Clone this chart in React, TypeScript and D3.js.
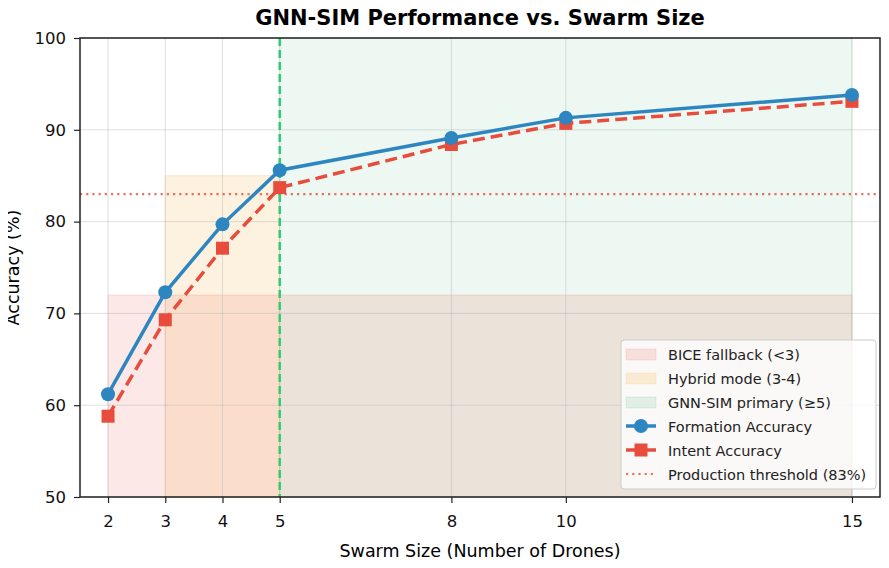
import React, { useEffect, useRef } from "react";
import * as d3 from "d3";

const swarmSizes = [2, 3, 4, 5, 8, 10, 15];
const formationAcc = [61.2, 72.3, 79.7, 85.6, 89.1, 91.3, 93.8];
const intentAcc = [58.8, 69.3, 77.1, 83.7, 88.4, 90.7, 93.1];
const yTicks = [50, 60, 70, 80, 90, 100];
const threshold = 83;

// shaded operating regions
const regions = [
  { label: "BICE fallback (<3)", x0: 2, x1: 15, yTop: 72, color: "#e74c3c", alpha: 0.12 },
  { label: "Hybrid mode (3-4)", x0: 3, x1: 5, yTop: 85, color: "#f39c12", alpha: 0.13 },
  { label: "GNN-SIM primary (≥5)", x0: 5, x1: 15, yTop: 100, color: "#27ae60", alpha: 0.09 },
];

const App: React.FC = () => {
  const svgRef = useRef<SVGSVGElement | null>(null);

  useEffect(() => {
    const svg = d3.select(svgRef.current);
    svg.selectAll("*").remove();

    const W = 889, H = 568;
    const m = { top: 38, right: 9, bottom: 71, left: 80 };
    const font = "DejaVu Sans, sans-serif";

    svg.attr("width", W).attr("height", H).style("background", "#fff");

    const x = d3.scaleLinear().domain([1.51, 15.49]).range([m.left, W - m.right]);
    const y = d3.scaleLinear().domain([50, 100]).range([H - m.bottom, m.top]);

    // regions (green first, then the others over it)
    [regions[2], regions[0], regions[1]].forEach(r => {
      svg.append("rect")
        .attr("x", x(r.x0))
        .attr("y", y(r.yTop))
        .attr("width", x(r.x1) - x(r.x0))
        .attr("height", y(50) - y(r.yTop))
        .attr("fill", r.color)
        .attr("fill-opacity", r.alpha)
        .attr("stroke", r.color)
        .attr("stroke-opacity", r.alpha + 0.05);
    });

    // grid
    const grid = svg.append("g");
    swarmSizes.forEach(v => {
      grid.append("line")
        .attr("x1", x(v)).attr("x2", x(v))
        .attr("y1", m.top).attr("y2", H - m.bottom)
        .attr("stroke", "#b0b0b0").attr("stroke-opacity", 0.4).attr("stroke-width", 1);
    });
    yTicks.forEach(v => {
      grid.append("line")
        .attr("x1", m.left).attr("x2", W - m.right)
        .attr("y1", y(v)).attr("y2", y(v))
        .attr("stroke", "#b0b0b0").attr("stroke-opacity", 0.4).attr("stroke-width", 1);
    });

    // threshold + switch line
    svg.append("line")
      .attr("x1", m.left).attr("x2", W - m.right)
      .attr("y1", y(threshold)).attr("y2", y(threshold))
      .attr("stroke", "#e74c3c").attr("stroke-opacity", 0.8)
      .attr("stroke-width", 2.2).attr("stroke-dasharray", "2.2,4");

    svg.append("line")
      .attr("x1", x(5)).attr("x2", x(5))
      .attr("y1", m.top).attr("y2", H - m.bottom)
      .attr("stroke", "#2ecc71").attr("stroke-width", 2.5).attr("stroke-dasharray", "8,4");

    const pts = (vals: number[]) => swarmSizes.map((s, i) => [x(s), y(vals[i])] as [number, number]);
    const line = d3.line<[number, number]>();

    svg.append("path")
      .attr("d", line(pts(intentAcc)))
      .attr("fill", "none").attr("stroke", "#e74c3c")
      .attr("stroke-width", 3.5).attr("stroke-dasharray", "12,6");
    svg.selectAll(".sq")
      .data(pts(intentAcc)).enter().append("rect")
      .attr("x", d => d[0] - 6.5).attr("y", d => d[1] - 6.5)
      .attr("width", 13).attr("height", 13)
      .attr("fill", "#e74c3c");

    svg.append("path")
      .attr("d", line(pts(formationAcc)))
      .attr("fill", "none").attr("stroke", "#2e86c1").attr("stroke-width", 3.5);
    svg.selectAll(".dot")
      .data(pts(formationAcc)).enter().append("circle")
      .attr("cx", d => d[0]).attr("cy", d => d[1]).attr("r", 7)
      .attr("fill", "#2e86c1");

    // frame
    svg.append("rect")
      .attr("x", m.left).attr("y", m.top)
      .attr("width", W - m.right - m.left).attr("height", H - m.bottom - m.top)
      .attr("fill", "none").attr("stroke", "#222").attr("stroke-width", 1.5);

    // axes
    const xAxis = svg.append("g")
      .attr("transform", `translate(0,${H - m.bottom})`)
      .call(d3.axisBottom(x).tickValues(swarmSizes).tickFormat(d3.format("d")).tickSize(6).tickPadding(12));
    const yAxis = svg.append("g")
      .attr("transform", `translate(${m.left},0)`)
      .call(d3.axisLeft(y).tickValues(yTicks).tickSize(6).tickPadding(8));
    [xAxis, yAxis].forEach(a => {
      a.select(".domain").remove();
      a.selectAll("line").attr("stroke", "#222").attr("stroke-width", 1.2);
      a.selectAll("text").style("font-family", font).style("font-size", "16.5px").attr("fill", "#111");
    });

    svg.append("text")
      .attr("x", (m.left + W - m.right) / 2).attr("y", 557)
      .attr("text-anchor", "middle")
      .style("font-family", font).style("font-size", "17.5px")
      .text("Swarm Size (Number of Drones)");
    svg.append("text")
      .attr("transform", `translate(19,${(m.top + H - m.bottom) / 2}) rotate(-90)`)
      .attr("text-anchor", "middle")
      .style("font-family", font).style("font-size", "17.5px")
      .text("Accuracy (%)");
    svg.append("text")
      .attr("x", (m.left + W - m.right) / 2).attr("y", 25)
      .attr("text-anchor", "middle")
      .style("font-family", font).style("font-size", "21px").style("font-weight", "bold")
      .text("GNN-SIM Performance vs. Swarm Size");

    // legend
    const lg = svg.append("g").attr("transform", "translate(621,340)");
    lg.append("rect")
      .attr("width", 255).attr("height", 149).attr("rx", 3)
      .attr("fill", "#fff").attr("fill-opacity", 0.8)
      .attr("stroke", "#ccc");
    const rowY = (i: number) => 14 + i * 24;
    regions.forEach((r, i) => {
      lg.append("rect")
        .attr("x", 5).attr("y", rowY(i) - 5).attr("width", 30).attr("height", 11)
        .attr("fill", r.color).attr("fill-opacity", r.alpha + 0.03)
        .attr("stroke", r.color).attr("stroke-opacity", 0.12);
    });
    const ly3 = rowY(3), ly4 = rowY(4), ly5 = rowY(5);
    lg.append("line").attr("x1", 5).attr("x2", 35).attr("y1", ly3).attr("y2", ly3)
      .attr("stroke", "#2e86c1").attr("stroke-width", 3.5);
    lg.append("circle").attr("cx", 20).attr("cy", ly3).attr("r", 7).attr("fill", "#2e86c1");
    lg.append("line").attr("x1", 5).attr("x2", 35).attr("y1", ly4).attr("y2", ly4)
      .attr("stroke", "#e74c3c").attr("stroke-width", 3.5);
    lg.append("rect").attr("x", 13.5).attr("y", ly4 - 6.5).attr("width", 13).attr("height", 13).attr("fill", "#e74c3c");
    lg.append("line").attr("x1", 5).attr("x2", 35).attr("y1", ly5).attr("y2", ly5)
      .attr("stroke", "#e74c3c").attr("stroke-opacity", 0.8)
      .attr("stroke-width", 2.2).attr("stroke-dasharray", "2.2,4");

    const labels = [...regions.map(r => r.label), "Formation Accuracy", "Intent Accuracy", `Production threshold (${threshold}%)`];
    labels.forEach((t, i) => {
      lg.append("text")
        .attr("x", 47).attr("y", rowY(i) + 5.5)
        .style("font-family", font).style("font-size", "14.5px").attr("fill", "#222")
        .text(t);
    });
  }, []);

  return <svg ref={svgRef} style={{ display: "block", margin: "-8px" }}></svg>;
};

export default App;
